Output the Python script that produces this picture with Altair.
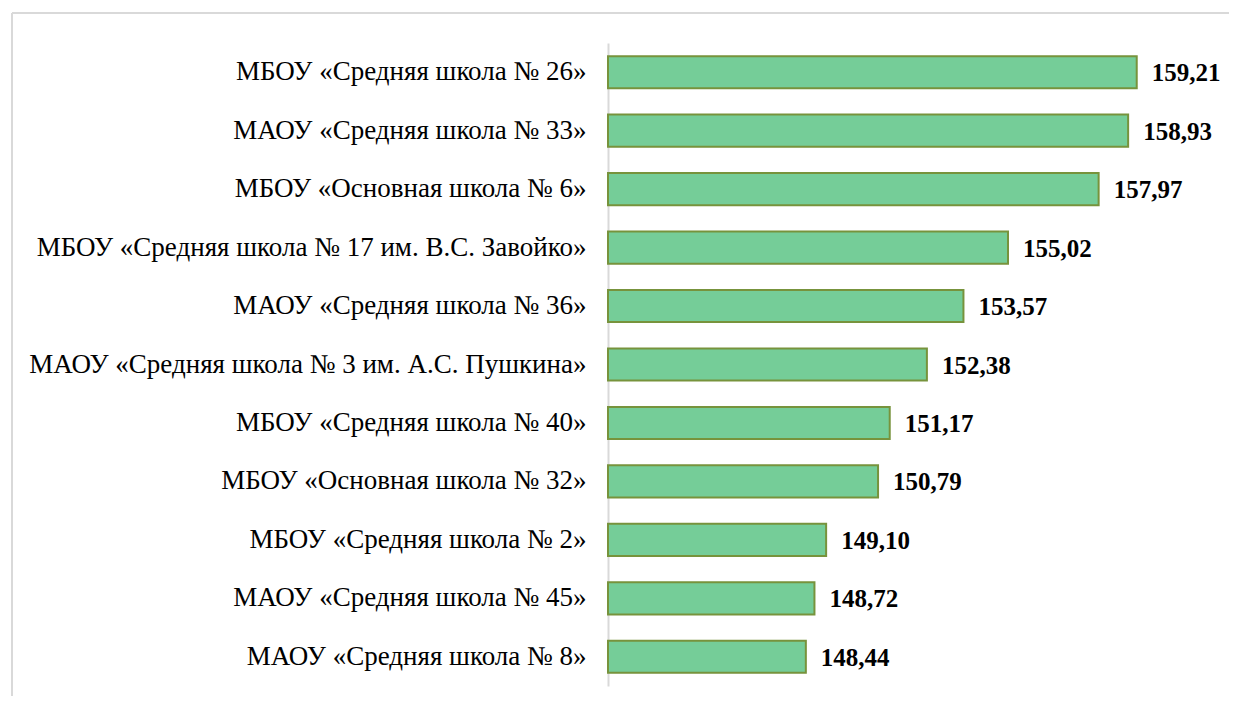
import altair as alt
import pandas as pd

schools = [
    "МБОУ «Средняя школа № 26»",
    "МАОУ «Средняя школа № 33»",
    "МБОУ «Основная школа № 6»",
    "МБОУ «Средняя школа № 17 им. В.С. Завойко»",
    "МАОУ «Средняя школа № 36»",
    "МАОУ «Средняя школа № 3 им. А.С. Пушкина»",
    "МБОУ «Средняя школа № 40»",
    "МБОУ «Основная школа № 32»",
    "МБОУ «Средняя школа № 2»",
    "МАОУ «Средняя школа № 45»",
    "МАОУ «Средняя школа № 8»",
]
scores = [159.21, 158.93, 157.97, 155.02, 153.57, 152.38, 151.17, 150.79, 149.10, 148.72, 148.44]
labels = ["159,21", "158,93", "157,97", "155,02", "153,57", "152,38", "151,17", "150,79", "149,10", "148,72", "148,44"]

df = pd.DataFrame({"school": schools, "score": scores, "label": labels})

FONT = "Liberation Serif, Times New Roman, Times, serif"
W, H = 553, 643

y_enc = alt.Y("school:N", sort=schools, title=None,
              scale=alt.Scale(paddingInner=0.45, paddingOuter=0.225),
              axis=alt.Axis(labelFont=FONT, labelFontSize=27, labelColor="#000000",
                            labelPadding=22, ticks=False, domainColor="#d9d9d9",
                            domainWidth=2, labelLimit=700))
x_enc = alt.X("score:Q", title=None, scale=alt.Scale(domain=[142, 160], zero=False, clamp=True),
              axis=None)

bars = alt.Chart(df).mark_bar(color="#75cd98", stroke="#77933c", strokeWidth=2,
                              cornerRadius=0).encode(x=x_enc, y=y_enc)
text = alt.Chart(df).mark_text(align="left", baseline="middle", dx=15, dy=1, font=FONT,
                               fontSize=25, fontWeight="bold", color="#000000").encode(
    x=x_enc, y=alt.Y("school:N", sort=schools), text="label:N")

frame_v = alt.Chart(df).mark_rule(color="#d9d9d9", strokeWidth=2).encode(
    x=alt.value(-596), y=alt.value(-30), y2=alt.value(660))
frame_h = alt.Chart(df).mark_rule(color="#d9d9d9", strokeWidth=2).encode(
    x=alt.value(-596), x2=alt.value(640), y=alt.value(-30))

chart = alt.layer(frame_v, frame_h, bars, text).properties(
    width=W, height=H,
    autosize=alt.AutoSizeParams(type="none"),
    padding={"left": 600, "top": 35, "right": 68, "bottom": 10},
).configure(font=FONT).configure_view(stroke=None)

chart.save("out.html", embed_options={"renderer": "svg", "actions": False})
